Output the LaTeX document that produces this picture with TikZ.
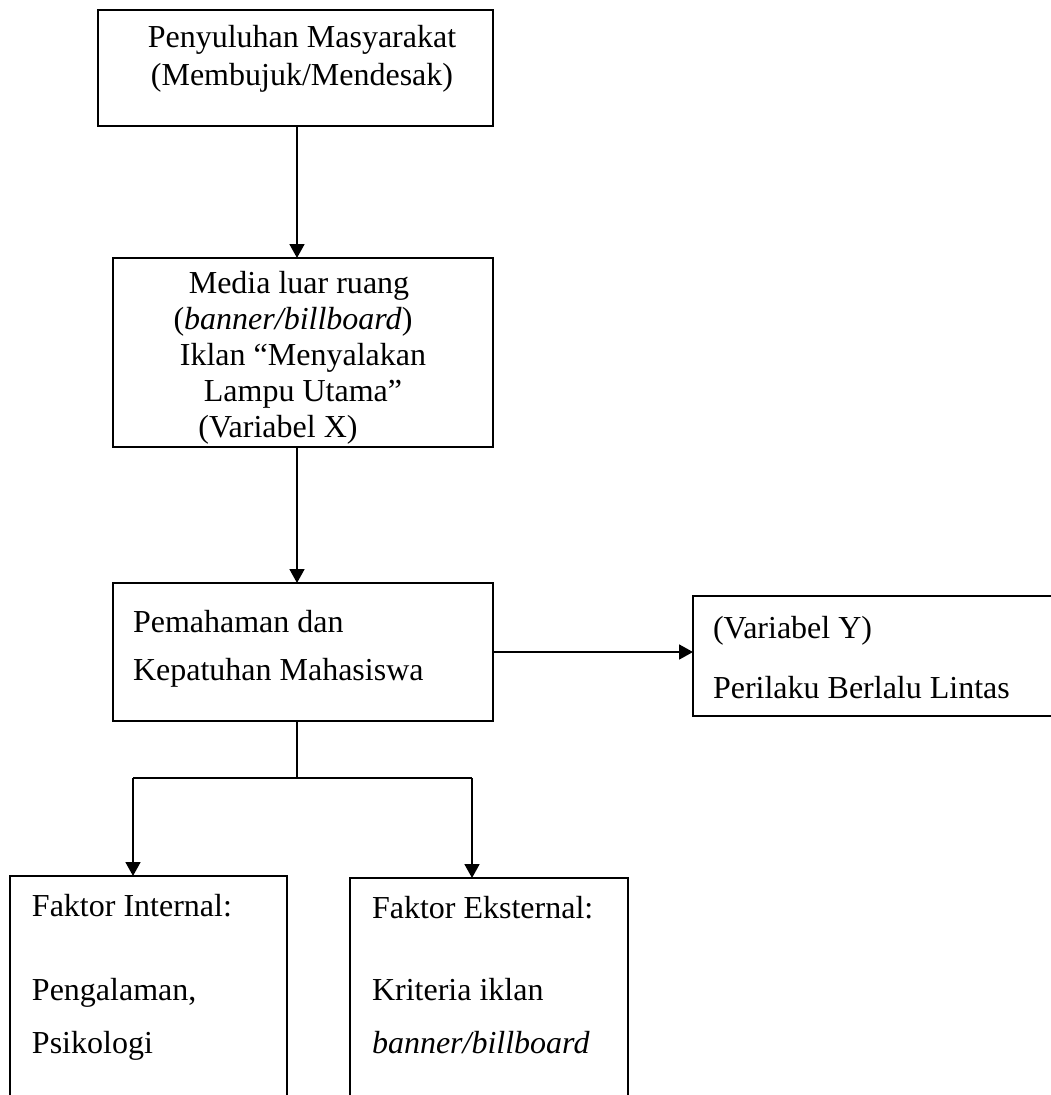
\documentclass[tikz,border=0pt]{standalone}
\usepackage{fontspec}
\setmainfont{Liberation Serif}
\usetikzlibrary{arrows.meta}
\begin{document}
\begin{tikzpicture}[x=0.375pt,y=-0.375pt,
  box/.style={draw, line width=0.75pt, inner sep=0pt, outer sep=0pt},
  txt/.style={inner sep=0pt, outer sep=0pt, font=\fontsize{12}{14}\selectfont},
  ctxt/.style={txt, anchor=base},
  ltxt/.style={txt, anchor=base west},
  conn/.style={line width=0.75pt},
  arr/.style={conn, -{Triangle[length=5.25pt, width=5.6pt]}}]
\useasboundingbox (0,0) rectangle (1051,1095);
\clip (0,0) rectangle (1051,1095);
% boxes
\node[box, minimum width=148.125pt, minimum height=43.5pt] (b1) at (295.5,68) {};
\node[box, minimum width=142.5pt, minimum height=70.875pt] (b2) at (303,352.5) {};
\node[box, minimum width=142.5pt, minimum height=51.75pt] (b3) at (303,652) {};
\node[box, minimum width=141.375pt, minimum height=45pt] (bY) at (881.5,656) {};
\node[box, minimum width=103.875pt, minimum height=91.5pt] (bL) at (148.5,998) {};
\node[box, minimum width=104.25pt, minimum height=90.75pt] (bR) at (489,999) {};
% texts
\node[ctxt] (t1a) at (302,48) {Penyuluhan Masyarakat};
\node[ctxt] (t1b) at (302,86) {(Membujuk/Mendesak)};
\node[ctxt] (t2a) at (299,293) {Media luar ruang};
\node[ctxt] (t2b) at (293,329) {(\textit{banner/billboard})};
\node[ctxt] (t2c) at (303,365) {Iklan “Menyalakan};
\node[ctxt] (t2d) at (303,401) {Lampu Utama”};
\node[ctxt] (t2e) at (278,437) {(Variabel X)};
\node[ltxt] (t3a) at (133,632) {Pemahaman dan};
\node[ltxt] (t3b) at (133,680) {Kepatuhan Mahasiswa};
\node[ltxt] (tYa) at (713,638) {(Variabel Y)};
\node[ltxt] (tYb) at (713,698) {Perilaku Berlalu Lintas};
\node[ltxt] (tLa) at (32,916) {Faktor Internal:};
\node[ltxt] (tLb) at (32,1000) {Pengalaman,};
\node[ltxt] (tLc) at (32,1053) {Psikologi};
\node[ltxt] (tRa) at (372,918) {Faktor Eksternal:};
\node[ltxt] (tRb) at (372,1000) {Kriteria iklan};
\node[ltxt] (tRc) at (372,1053) {\textit{banner/billboard}};
% connectors
\coordinate (j) at (297,778);
\coordinate (jl) at (133,778);
\coordinate (jr) at (472,778);
\draw[arr] (j |- b1.south) -- (j |- b2.north);
\draw[arr] (j |- b2.south) -- (j |- b3.north);
\draw[arr] (b3.east) -- (b3.east -| bY.west);
\draw[conn] (j |- b3.south) -- (j);
\draw[conn] (jl) -- (jr);
\draw[arr] (jl) -- (jl |- bL.north);
\draw[arr] (jr) -- (jr |- bR.north);
\end{tikzpicture}
\end{document}
